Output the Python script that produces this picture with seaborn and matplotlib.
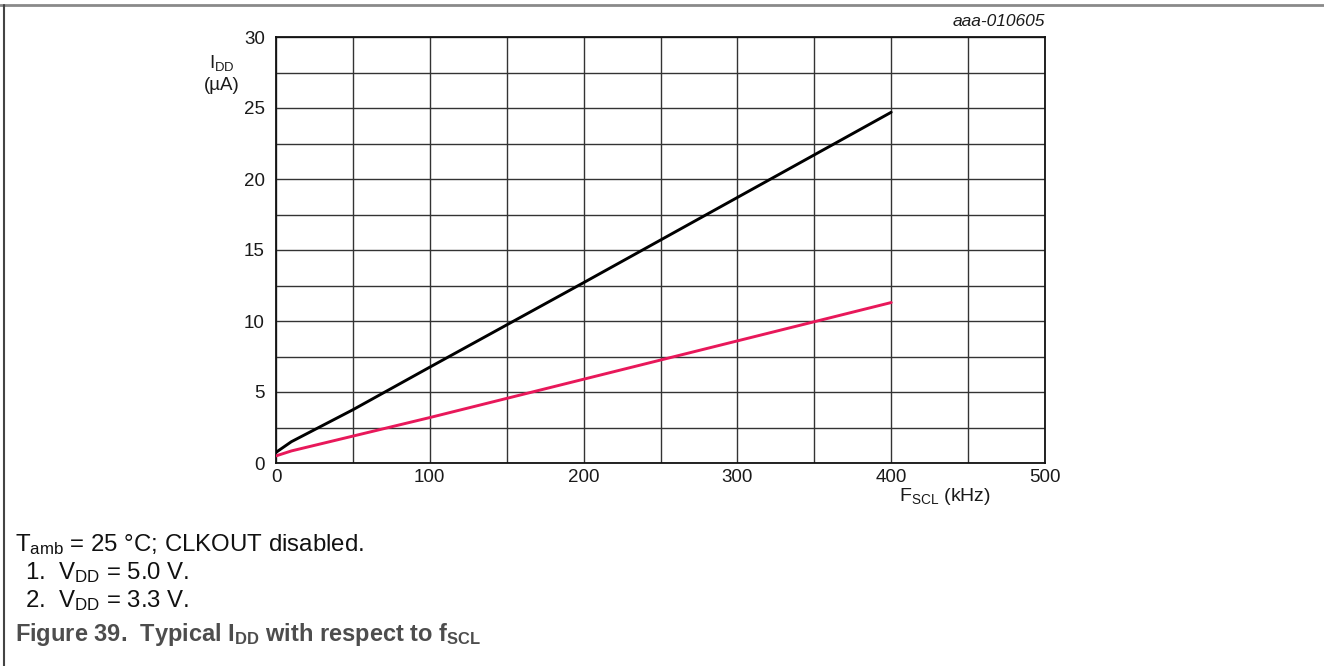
import matplotlib
matplotlib.use("Agg")
import matplotlib.pyplot as plt
import seaborn as sns
import pandas as pd
from matplotlib.lines import Line2D

# data
f_scl_5v = [0, 10, 50, 100, 200, 300, 400]
idd_5v = [0.75, 1.5, 3.75, 6.75, 12.7, 18.7, 24.7]
f_scl_3v3 = [0, 10, 100, 200, 300, 400]
idd_3v3 = [0.5, 0.85, 3.2, 5.9, 8.6, 11.3]
xticks = [0, 100, 200, 300, 400, 500]
yticks = [0, 5, 10, 15, 20, 25, 30]

sns.set_theme(style="white")
plt.rcParams['font.family'] = ['Liberation Sans', 'DejaVu Sans']
plt.rcParams['mathtext.fontset'] = 'custom'
plt.rcParams['mathtext.rm'] = 'Liberation Sans'
plt.rcParams['mathtext.it'] = 'Liberation Sans:italic'
plt.rcParams['mathtext.bf'] = 'Liberation Sans:bold'

df = pd.concat([
    pd.DataFrame({'f': f_scl_5v, 'idd': idd_5v, 'curve': '1'}),
    pd.DataFrame({'f': f_scl_3v3, 'idd': idd_3v3, 'curve': '2'}),
])

fig = plt.figure(figsize=(13.24, 6.66), dpi=100)
ax = fig.add_axes([276/1324, 1-463/666, (1045-276)/1324, (463-37)/666])

sns.lineplot(data=df, x='f', y='idd', hue='curve', palette={'1': '#000000', '2': '#e8185a'},
             linewidth=2.1, legend=False, ax=ax, zorder=5)

ax.set_xlim(0, 500)
ax.set_ylim(0, 30)
ax.set_xticks(xticks)
ax.set_yticks(yticks)
ax.set_xticks(range(50, 500, 100), minor=True)
ax.set_yticks([2.5 + 5*i for i in range(6)], minor=True)
ax.grid(True, which='both', color='#333333', linewidth=1.0)
ax.tick_params(axis='both', which='both', length=0, labelsize=13.5, colors='#1a1a1a')
ax.tick_params(axis='x', pad=4)
ax.tick_params(axis='y', pad=8)
for s in ax.spines.values():
    s.set_color('#111111')
    s.set_linewidth(1.3)
ax.set_xlabel('')
ax.set_ylabel('')

ax.text(0.81, -0.078, r'$\mathregular{F_{SCL}}$ (kHz)', transform=ax.transAxes,
        fontsize=14, ha='left', va='center', color='#1a1a1a')
fig.text(222/1324, 1-63/666, r'$\mathregular{I_{DD}}$', fontsize=13.5, ha='center', va='center', color='#1a1a1a')
fig.text(222/1324, 1-86/666, '(µA)', fontsize=13.5, ha='center', va='center', color='#1a1a1a')
fig.text(1045/1324, 1-22/666, 'aaa-010605', fontsize=12.5, style='italic', ha='right', va='center', color='#1a1a1a')

fig.text(15/1324, 1-545/666, r'$\mathregular{T_{amb}}$ = 25 °C; CLKOUT disabled.', fontsize=17.3,
         ha='left', va='center', color='#111111')
fig.text(25/1324, 1-573/666, r'1.  $\mathregular{V_{DD}}$ = 5.0 V.', fontsize=17.3, ha='left', va='center', color='#111111')
fig.text(25/1324, 1-601/666, r'2.  $\mathregular{V_{DD}}$ = 3.3 V.', fontsize=17.3, ha='left', va='center', color='#111111')
fig.text(15/1324, 1-634/666, r'Figure 39.  Typical $\mathregular{I_{DD}}$ with respect to $\mathregular{f_{SCL}}$',
         fontsize=17, fontweight='bold', ha='left', va='center', color='#4d4d4d')

# frame
fig.add_artist(Line2D([0, 1], [1-5/666, 1-5/666], transform=fig.transFigure, color='#8a8a8a', linewidth=2))
fig.add_artist(Line2D([4/1324, 4/1324], [0, 1-5/666], transform=fig.transFigure, color='#444444', linewidth=1.5))

fig.savefig('out.png', dpi=100)
